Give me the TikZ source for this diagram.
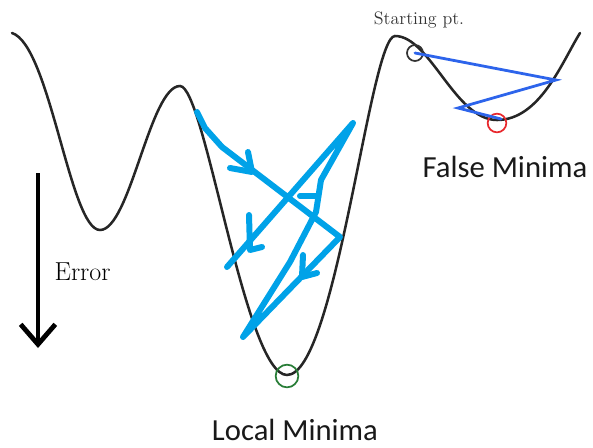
\documentclass[tikz,border=0pt]{standalone}
\usepackage{fontspec}
\newfontfamily\labelfont{Carlito}
\usepackage{tikz}
\usetikzlibrary{arrows.meta, positioning}
\definecolor{scribble}{RGB}{0,162,232}
\definecolor{descent}{RGB}{45,100,235}
\definecolor{falsered}{RGB}{232,40,45}
\definecolor{localgreen}{RGB}{40,125,55}
\tikzset{
    landscape/.style={line width=1.9pt, draw=black!85, line cap=round},
    scribble_line/.style={line width=4.5pt, draw=scribble, line join=round, line cap=round},
    descent_line/.style={line width=2.1pt, draw=descent, line cap=round},
    marker/.style={circle, draw, inner sep=0pt, line width=1.3pt},
    minima_label/.style={font=\labelfont\fontsize{23}{25}\selectfont, text=black!90, inner sep=0pt},
    serif_label/.style={font=\rmfamily, text=black}
}

\begin{document}
\begin{tikzpicture}[x=0.75pt, y=-0.75pt]
\useasboundingbox (0,0) rectangle (593,447);

% Error surface
\draw[landscape] (12,33) .. controls (50,45) and (70,230) .. (100,230)
    .. controls (130,230) and (150,86) .. (180,86)
    .. controls (205,86) and (245,375) .. (287,375)
    .. controls (336,375) and (370,36) .. (395,36)
    .. controls (430,36) and (455,120) .. (497,120)
    .. controls (540,120) and (562,62) .. (580,33);

% Markers
\node (startpt) [marker, draw=black!80, minimum size=12pt] at (415,53) {};
\node (falsept) [marker, draw=falsered, minimum size=14pt] at (497,123) {};
\node (localpt) [marker, draw=localgreen, minimum size=17pt] at (287,376) {};

% Labels
\node (startlbl) [serif_label, font=\rmfamily\fontsize{13.5}{15}\selectfont, text=black!80]
    at (419,20) {Starting pt.};
\node (errorlbl) [serif_label, font=\rmfamily\fontsize{19.5}{21}\selectfont, right]
    at (50,272) {Error};
\node (falselbl) [minima_label] at (505,167) {False Minima};
\node (locallbl) [minima_label] at (295,430) {Local Minima};

% Descent in the shallow well
\coordinate (bounce1) at (556,80);
\coordinate (bounce2) at (458,108);
\coordinate (settle) at (501,119);
\draw[descent_line] (startpt.center) -- (bounce1) -- (bounce2) -- (settle);

% Scribble in the deep well
\draw[scribble_line] (197,112) -- (205,128) -- (222,147) -- (340,237)
    -- (243,337) -- (290,262) -- (316,212) -- (321,180) -- (353,123)
    -- (227,267);
\draw[scribble_line] (248,152) -- (252,172) -- (230,168);
\draw[scribble_line] (249,215) -- (250,250) -- (262,247);
\draw[scribble_line] (303,255) -- (302,277) -- (317,273);
\draw[scribble_line] (300,196) -- (318,196);

% Error axis
\coordinate (errtop) at (38,173);
\coordinate (errbot) at (38,348);
\draw[line width=3.6pt, -{Straight Barb[length=15pt, width=26pt, line width=3.6pt]}]
    (errtop) -- (errbot);

\end{tikzpicture}
\end{document}
